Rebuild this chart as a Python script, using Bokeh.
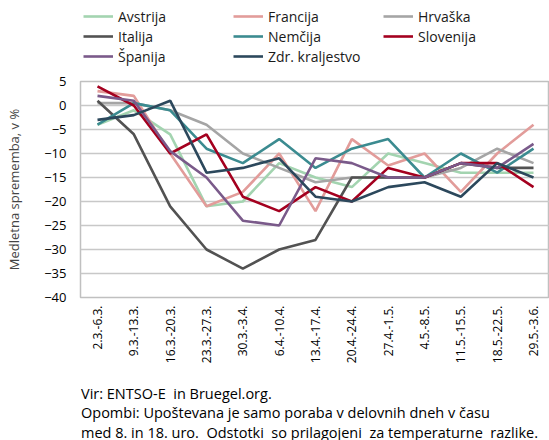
from bokeh.plotting import figure
from bokeh.layouts import column
from bokeh.models import Range1d, FixedTicker, Legend, LegendItem
from bokeh.core.properties import value
from bokeh.embed import file_html
from bokeh.resources import INLINE
import math

weeks = ["2.3.-6.3.", "9.3.-13.3.", "16.3.-20.3.", "23.3.-27.3.", "30.3.-3.4.",
         "6.4.-10.4.", "13.4.-17.4.", "20.4.-24.4.", "27.4.-1.5.", "4.5.-8.5.",
         "11.5.-15.5.", "18.5.-22.5.", "29.5.-3.6."]

avstrija = [-4, -1, -6, -21, -20, -12, -15, -17, -10, -12, -14, -14, -14]
francija = [3, 2, -10, -21, -18, -10, -22, -7, -12.5, -10, -18, -10, -4]
hrvaska = [0.5, 0.5, -1, -4, -10, -13, -16, -15, -15, -15, -13, -9, -12]
italija = [1, -6, -21, -30, -34, -30, -28, -15, -15, -15, -12, -13, -13]
nemcija = [-4, 0.5, -1, -9, -12, -7, -13, -9, -7, -15, -10, -14, -9]
slovenija = [4, 0, -10, -6, -19, -22, -17, -20, -13, -15, -12, -12, -17]
spanija = [2, 1, -9.5, -15, -24, -25, -11, -12, -15, -15, -12, -13, -8]
zdr_kraljestvo = [-3, -2, 1, -14, -13, -11, -19, -20, -17, -16, -19, -12, -15]

series = [
    ("Avstrija", avstrija, "#a3d4b0"),
    ("Francija", francija, "#e29c9a"),
    ("Hrvaška", hrvaska, "#a5a5a5"),
    ("Italija", italija, "#525252"),
    ("Nemčija", nemcija, "#3b8b90"),
    ("Slovenija", slovenija, "#a4001f"),
    ("Španija", spanija, "#7a5a8a"),
    ("Zdr. kraljestvo", zdr_kraljestvo, "#2c485c"),
]

y_ticks = list(range(-40, 6, 5))
footnotes = ["Vir: ENTSO-E\u00a0 in Bruegel.org.",
             "Opombi:  Upoštevana  je samo poraba  v delovnih  dneh v času",
             "med 8. in 18. uro.\u00a0 Odstotki\u00a0 so prilagojeni\u00a0 za temperaturne\u00a0 razlike."]

FONT = "Open Sans"
W = 549


def bare(fig):
    fig.grid.grid_line_color = None
    fig.outline_line_color = None
    return fig


# --- legend strip ---
pl = bare(figure(width=W, height=70, output_backend="svg", toolbar_location=None,
                 x_range=Range1d(0, 1), y_range=Range1d(0, 1),
                 x_axis_location=None, y_axis_location=None,
                 min_border_left=80, min_border_right=0, min_border_top=3, min_border_bottom=0))
items = []
for name, vals, col in series:
    # one point outside the strip's range: only the legend swatch is seen
    r = pl.line(x=[-5], y=[-5], line_color=col, line_width=2.6)
    items.append(LegendItem(label=name, renderers=[r]))
legend = Legend(items=items, ncols=3, orientation="horizontal", location="top_left",
                glyph_width=30, glyph_height=20, label_height=20, label_width=115,
                label_standoff=5, spacing=0, padding=0, margin=3,
                label_text_font=FONT, label_text_font_size="14px", label_text_color="#1a1a1a",
                border_line_color=None, background_fill_alpha=0)
pl.add_layout(legend, "center")

# --- main chart ---
p = figure(width=W, height=310, output_backend="svg", toolbar_location=None,
           x_range=Range1d(-0.468, 12.44), y_range=Range1d(-40, 5),
           min_border_left=80, min_border_right=0, min_border_top=11, min_border_bottom=83)
xs = list(range(len(weeks)))
for name, vals, col in series:
    p.line(xs, vals, line_color=col, line_width=2.6)

p.outline_line_color = "#c0c0c0"
p.outline_line_width = 1.5
p.xgrid.grid_line_color = None
p.ygrid.grid_line_color = "#c8c8c8"
p.ygrid.grid_line_width = 1.5

p.yaxis.ticker = FixedTicker(ticks=y_ticks)
p.xaxis.ticker = FixedTicker(ticks=xs)
p.xaxis.major_label_overrides = {i: w for i, w in enumerate(weeks)}
p.xaxis.major_label_orientation = math.pi / 2
for ax in (p.xaxis, p.yaxis):
    ax.axis_line_color = None
    ax.major_tick_line_color = None
    ax.minor_tick_line_color = None
    ax.major_tick_out = 0
    ax.major_tick_in = 0
    ax.major_label_text_font = FONT
    ax.major_label_text_color = "#000000"
p.yaxis.major_label_text_font_size = "13px"
p.xaxis.major_label_text_font_size = "12px"
p.yaxis.major_label_standoff = 14
p.xaxis.major_label_standoff = 8
p.yaxis.axis_label = "Medletna sprememba, v %"
p.yaxis.axis_label_text_font = FONT
p.yaxis.axis_label_text_font_style = "normal"
p.yaxis.axis_label_text_font_size = "13px"
p.yaxis.axis_label_standoff = 18

# --- footnote strip (its frame is aligned with the chart frame: 80..549 px) ---
pf = bare(figure(width=W, height=60, output_backend="svg", toolbar_location=None,
                 x_range=Range1d(80, W), y_range=Range1d(60, 0),
                 x_axis_location=None, y_axis_location=None,
                 min_border_left=80, min_border_right=0, min_border_top=0, min_border_bottom=0))
pf.text(x=[80.5] * len(footnotes), y=[12.5 + i * 19.5 for i in range(len(footnotes))],
        text=footnotes, text_font=value(FONT), text_font_size=value("14.5px"),
        text_baseline="middle", text_align="left", text_color="#000000")

layout = column(pl, p, pf, spacing=0)
open("out.html", "w").write(file_html(layout, INLINE))
